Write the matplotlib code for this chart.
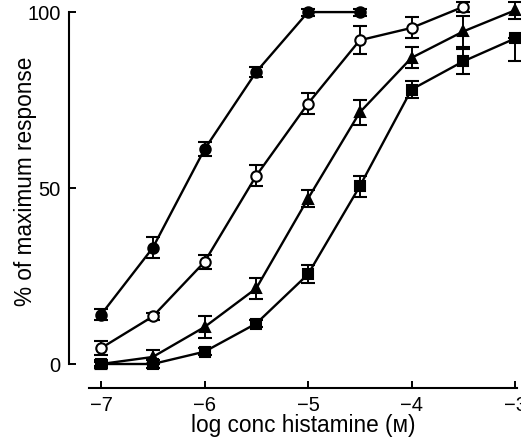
import numpy as np
import matplotlib
matplotlib.use("Agg")
import matplotlib.pyplot as plt

plt.rcParams['font.family'] = ['Liberation Sans', 'DejaVu Sans']

# log concentration of histamine (M)
x_vals = [-7, -6.5, -6, -5.5, -5, -4.5, -4, -3.5, -3]

# filled circles
fc_y = [14, 33, 61, 83, 100, 100]
fc_e = [1.5, 3, 2, 1.5, 1, 1]
# open circles
oc_y = [4.5, 13.5, 29, 53.5, 74, 92, 95.5, 101.5]
oc_e = [2, 1, 2, 3, 3, 4, 3, 1.5]
# filled triangles
tr_y = [0, 2, 10.5, 21.5, 47, 71.5, 87, 94.5, 100.5]
tr_e = [1, 2, 3, 3, 2.5, 3.5, 3, 4.5, 2.5]
# filled squares (last point only has a lower bar)
sq_y = [0, 0, 3.5, 11.5, 25.5, 50.5, 78, 86, 92.5]
sq_lo = [0.5, 1, 1, 1, 2.5, 3, 2.5, 3.5, 6.5]
sq_hi = [0.5, 1, 1, 1, 2.5, 3, 2.5, 3.5, 0]

fig = plt.figure(figsize=(5.21, 4.41), dpi=100)
ax = fig.add_axes([0.1708, 0.1746, 0.8215, 0.798])

common = dict(color='black', lw=1.7, capsize=5, elinewidth=1.4, capthick=1.4,
              clip_on=False, markersize=7.5, markeredgewidth=1.5)

ax.errorbar(x_vals[:6], fc_y, yerr=fc_e, marker='o', **common)
ax.errorbar(x_vals[:8], oc_y, yerr=oc_e, marker='o', markerfacecolor='white', **common)
ax.errorbar(x_vals, tr_y, yerr=tr_e, marker='^', **common)
ax.errorbar(x_vals, sq_y, yerr=[sq_lo, sq_hi], marker='s', **common)

for c in ax.get_children():
    try:
        c.set_clip_on(False)
    except Exception:
        pass

ax.set_xlim(-7.116, -2.981)
ax.set_ylim(0, 100)

ax.spines['top'].set_visible(False)
ax.spines['right'].set_visible(False)
ax.spines['left'].set_position(('outward', 14.4))
ax.spines['bottom'].set_position(('outward', 17.3))
ax.spines['left'].set_linewidth(1.5)
ax.spines['bottom'].set_linewidth(1.5)

ax.set_xticks([-7, -6, -5, -4, -3])
ax.set_xticklabels(['\u22127', '\u22126', '\u22125', '\u22124', '\u22123'])
ax.set_yticks([0, 50, 100])
ax.set_yticklabels(['0', '50', '100'])
ax.tick_params(axis='both', direction='in', length=5, width=1.4, labelsize=14.5)
ax.tick_params(axis='x', pad=6)
ax.tick_params(axis='y', pad=6)

ax.set_xlabel('log conc histamine (\u1d0d)', fontsize=16.3)
ax.set_ylabel('% of maximum response', fontsize=16.3)
ax.xaxis.set_label_coords(0.5, -0.143)
ax.yaxis.set_label_coords(-0.122, 0.52)

fig.savefig('out.png', dpi=100)
